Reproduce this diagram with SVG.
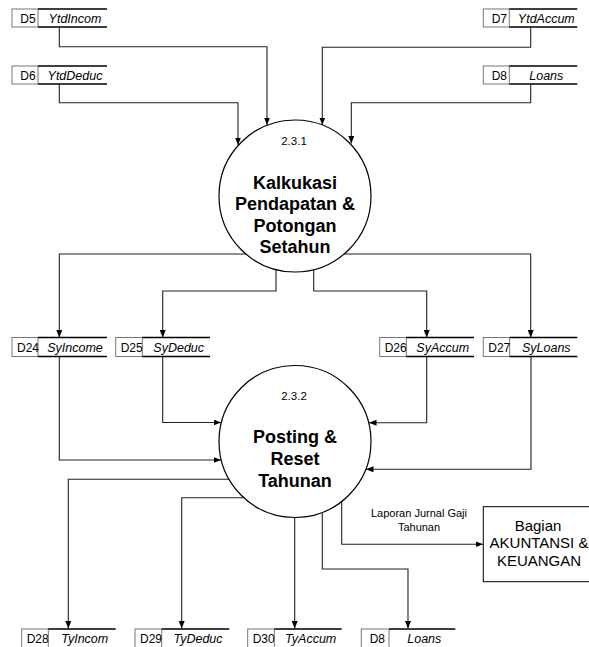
<svg xmlns="http://www.w3.org/2000/svg" width="589" height="647" viewBox="0 0 589 647">
  <style>
    .bg { fill: #ffffff; }
    .proc { fill: #ffffff; stroke: #000000; stroke-width: 1.2; }
    .sid { fill: #ffffff; stroke: #777777; stroke-width: 1; }
    .sln { fill: none; stroke: #000000; stroke-width: 1.3; }
    .flow { fill: none; stroke: #222222; stroke-width: 1.1; marker-end: url(#arrow); }
    .ent { fill: #ffffff; stroke: #000000; stroke-width: 1; }
    .t-id { font-family: "Liberation Sans", Arial, sans-serif; font-size: 12px; fill: #000; text-anchor: middle; }
    .t-nm { font-family: "Liberation Sans", Arial, sans-serif; font-size: 12.5px; font-style: italic; fill: #000; text-anchor: middle; }
    .t-num { font-family: "Liberation Sans", Arial, sans-serif; font-size: 11.5px; fill: #000; text-anchor: middle; }
    .t-proc { font-family: "Liberation Sans", Arial, sans-serif; font-size: 18px; font-weight: bold; fill: #000; text-anchor: middle; }
    .t-ent { font-family: "Liberation Sans", Arial, sans-serif; font-size: 15px; fill: #000; text-anchor: middle; }
    .t-lbl { font-family: "Liberation Sans", Arial, sans-serif; font-size: 11px; fill: #000; text-anchor: middle; }
  </style>
  <defs>
    <marker id="arrow" markerUnits="userSpaceOnUse" markerWidth="8" markerHeight="7" refX="7.5" refY="3" orient="auto">
      <path d="M0,0 L7.5,3 L0,6 z" fill="#000000"/>
    </marker>
  </defs>

  <rect class="bg" x="0" y="0" width="589" height="647"/>

  <!-- data flows -->
  <g id="connectors">
    <!-- into process 2.3.1 -->
    <path class="flow" d="M59.3,27.5 V46.7 H267 V125"/>
    <path class="flow" d="M59.3,84.5 V102.7 H238 V145"/>
    <path class="flow" d="M530.7,27.5 V47.3 H322.3 V125"/>
    <path class="flow" d="M530.7,84.5 V102.7 H351.3 V143.5"/>
    <!-- out of process 2.3.1 -->
    <path class="flow" d="M245.9,254 H59.3 V337.5"/>
    <path class="flow" d="M276,269.6 V291 H162.7 V337.5"/>
    <path class="flow" d="M313.7,269.7 V291 H426.7 V337.5"/>
    <path class="flow" d="M344.1,254 H530.7 V337.5"/>
    <!-- into process 2.3.2 -->
    <path class="flow" d="M162.7,356.5 V422.5 H221"/>
    <path class="flow" d="M59.3,356.5 V460 H221"/>
    <path class="flow" d="M426.7,356.5 V422.7 H369"/>
    <path class="flow" d="M531,356.5 V469.3 H366"/>
    <!-- out of process 2.3.2 -->
    <path class="flow" d="M229.5,479.3 H68.3 V628.5"/>
    <path class="flow" d="M244.4,497.7 H181.7 V628.5"/>
    <path class="flow" d="M294.7,517 V628.5"/>
    <path class="flow" d="M322.3,512 V569 H408 V628.5"/>
    <path class="flow" d="M341.7,501 V544.3 H483"/>
  </g>

  <!-- data stores -->
  <g id="d5" transform="translate(12,9)">
    <rect class="sid" width="26" height="18"/>
    <path class="sln" d="M26,0 H95 M26,18 H95"/>
    <text class="t-id" x="16" y="13.5">D5</text>
    <text class="t-nm" x="63" y="13.5">YtdIncom</text>
  </g>
  <g id="d6" transform="translate(12,66)">
    <rect class="sid" width="26" height="18"/>
    <path class="sln" d="M26,0 H95 M26,18 H95"/>
    <text class="t-id" x="16" y="13.5">D6</text>
    <text class="t-nm" x="63" y="13.5">YtdDeduc</text>
  </g>
  <g id="d7" transform="translate(483.3,9)">
    <rect class="sid" width="26" height="18"/>
    <path class="sln" d="M26,0 H94 M26,18 H94"/>
    <text class="t-id" x="16" y="13.5">D7</text>
    <text class="t-nm" x="63" y="13.5">YtdAccum</text>
  </g>
  <g id="d8-top" transform="translate(483.3,66)">
    <rect class="sid" width="26" height="18"/>
    <path class="sln" d="M26,0 H94 M26,18 H94"/>
    <text class="t-id" x="16" y="13.5">D8</text>
    <text class="t-nm" x="63" y="13.5">Loans</text>
  </g>

  <g id="d24" transform="translate(12,337.5)">
    <rect class="sid" width="26" height="19"/>
    <path class="sln" d="M26,0 H95 M26,19 H95"/>
    <text class="t-id" x="16" y="14">D24</text>
    <text class="t-nm" x="63" y="14">SyIncome</text>
  </g>
  <g id="d25" transform="translate(115.7,337.5)">
    <rect class="sid" width="26.6" height="19"/>
    <path class="sln" d="M26.6,0 H94.3 M26.6,19 H94.3"/>
    <text class="t-id" x="16" y="14">D25</text>
    <text class="t-nm" x="63" y="14">SyDeduc</text>
  </g>
  <g id="d26" transform="translate(379.7,337.5)">
    <rect class="sid" width="26.6" height="19"/>
    <path class="sln" d="M26.6,0 H94.3 M26.6,19 H94.3"/>
    <text class="t-id" x="16" y="14">D26</text>
    <text class="t-nm" x="63" y="14">SyAccum</text>
  </g>
  <g id="d27" transform="translate(483.3,337.5)">
    <rect class="sid" width="26.4" height="19"/>
    <path class="sln" d="M26.4,0 H94 M26.4,19 H94"/>
    <text class="t-id" x="16" y="14">D27</text>
    <text class="t-nm" x="63" y="14">SyLoans</text>
  </g>

  <g id="d28" transform="translate(21.7,629)">
    <rect class="sid" width="26.6" height="19"/>
    <path class="sln" d="M26.6,0 H94 M26.6,19 H94"/>
    <text class="t-id" x="16" y="13.5">D28</text>
    <text class="t-nm" x="63" y="13.5">TyIncom</text>
  </g>
  <g id="d29" transform="translate(135,629)">
    <rect class="sid" width="26.7" height="19"/>
    <path class="sln" d="M26.7,0 H94.3 M26.7,19 H94.3"/>
    <text class="t-id" x="16" y="13.5">D29</text>
    <text class="t-nm" x="63" y="13.5">TyDeduc</text>
  </g>
  <g id="d30" transform="translate(247.7,629)">
    <rect class="sid" width="26.6" height="19"/>
    <path class="sln" d="M26.6,0 H94 M26.6,19 H94"/>
    <text class="t-id" x="16" y="13.5">D30</text>
    <text class="t-nm" x="63" y="13.5">TyAccum</text>
  </g>
  <g id="d8-bottom" transform="translate(361.3,629)">
    <rect class="sid" width="27.7" height="19"/>
    <path class="sln" d="M27.7,0 H94 M27.7,19 H94"/>
    <text class="t-id" x="16" y="13.5">D8</text>
    <text class="t-nm" x="63" y="13.5">Loans</text>
  </g>

  <!-- processes -->
  <g id="p231">
    <circle class="proc" cx="295" cy="196" r="76"/>
    <text class="t-num" x="294" y="145">2.3.1</text>
    <text class="t-proc" x="295" y="188.5">Kalkukasi</text>
    <text class="t-proc" x="295" y="210">Pendapatan &amp;</text>
    <text class="t-proc" x="295" y="231.5">Potongan</text>
    <text class="t-proc" x="295" y="253">Setahun</text>
  </g>
  <g id="p232">
    <circle class="proc" cx="295" cy="441.5" r="76"/>
    <text class="t-num" x="294" y="400">2.3.2</text>
    <text class="t-proc" x="295" y="443">Posting &amp;</text>
    <text class="t-proc" x="295" y="465">Reset</text>
    <text class="t-proc" x="295" y="487">Tahunan</text>
  </g>

  <!-- external entity -->
  <g id="bagian-akuntansi">
    <rect class="ent" x="483.3" y="506.7" width="112" height="75"/>
    <text class="t-ent" x="538" y="530.7">Bagian</text>
    <text class="t-ent" x="539" y="548.3">AKUNTANSI &amp;</text>
    <text class="t-ent" x="539" y="566">KEUANGAN</text>
  </g>

  <!-- flow label -->
  <g id="flow-label">
    <text class="t-lbl" x="419" y="517">Laporan Jurnal Gaji</text>
    <text class="t-lbl" x="419" y="530.5">Tahunan</text>
  </g>
</svg>
